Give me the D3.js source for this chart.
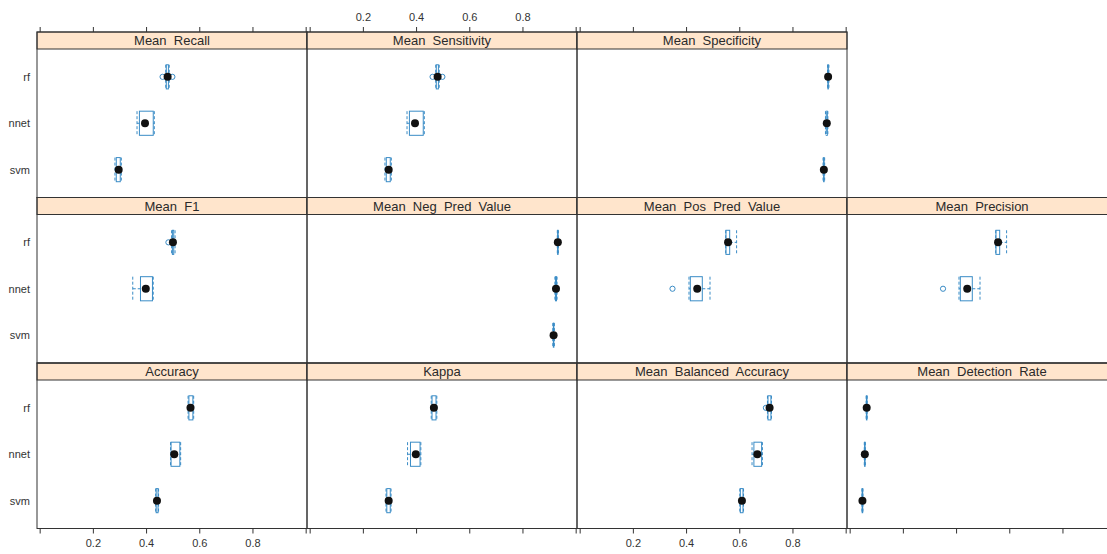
<!DOCTYPE html>
<html>
<head>
<meta charset="utf-8">
<script src="https://cdn.jsdelivr.net/npm/d3@7"></script>
<style>
    body { margin: 0; background: #fff; }
    text { font-family: "Liberation Sans", Arial, sans-serif; }
</style>
</head>
<body>
<svg id="bwplot"></svg>
<script>
// models, top to bottom inside each panel
var models = ["rf", "nnet", "svm"]
// panel names in lattice order (bottom-left first, row by row)
var panelNames = ["Accuracy", "Kappa", "Mean  Balanced  Accuracy", "Mean  Detection  Rate",
    "Mean  F1", "Mean  Neg  Pred  Value", "Mean  Pos  Pred  Value", "Mean  Precision",
    "Mean  Recall", "Mean  Sensitivity", "Mean  Specificity"]
var tickValues = [0, 0.2, 0.4, 0.6, 0.8, 1.0]
var tickLabels = ["", "0.2", "0.4", "0.6", "0.8", ""]

// [min, q1, median, q3, max] for rf, nnet, svm (null = no values)
var accuracy = [[0.558, 0.561, 0.567, 0.576, 0.579], [0.492, 0.494, 0.506, 0.527, 0.530], [0.436, 0.438, 0.441, 0.445, 0.447]]
var kappa = [[0.457, 0.460, 0.467, 0.475, 0.478], [0.368, 0.379, 0.399, 0.415, 0.418], [0.287, 0.290, 0.297, 0.303, 0.306]]
var balancedAcc = [[0.706, 0.708, 0.714, 0.719, 0.721], [0.648, 0.655, 0.668, 0.684, 0.687], [0.602, 0.604, 0.610, 0.614, 0.616]]
var detectionRate = [[0.062, 0.063, 0.064, 0.065, 0.066], [0.055, 0.056, 0.057, 0.058, 0.059], [0.046, 0.047, 0.048, 0.049, 0.050]]
var f1 = [[0.496, 0.499, 0.501, 0.504, 0.509], [0.350, 0.379, 0.399, 0.424, 0.427], null]
var negPred = [[0.931, 0.932, 0.933, 0.934, 0.935], [0.922, 0.924, 0.926, 0.928, 0.930], [0.914, 0.916, 0.917, 0.918, 0.920]]
var posPred = [[0.549, 0.550, 0.558, 0.564, 0.590], [0.411, 0.416, 0.442, 0.461, 0.490], null]
var precision = [[0.549, 0.550, 0.558, 0.564, 0.590], [0.411, 0.416, 0.442, 0.461, 0.490], null]
var recall = [[0.474, 0.476, 0.481, 0.484, 0.487], [0.366, 0.375, 0.396, 0.427, 0.431], [0.283, 0.288, 0.297, 0.303, 0.307]]
var sensitivity = [[0.474, 0.476, 0.481, 0.484, 0.487], [0.366, 0.375, 0.396, 0.427, 0.431], [0.283, 0.288, 0.297, 0.303, 0.307]]
var specificity = [[0.932, 0.933, 0.934, 0.935, 0.937], [0.924, 0.927, 0.929, 0.931, 0.933], [0.915, 0.917, 0.918, 0.919, 0.921]]

// outliers per model (rf, nnet, svm)
var noOut = [[], [], []]
var balancedAccOut = [[0.700], [], []]
var f1Out = [[0.484], [], []]
var posPredOut = [[], [0.349], []]
var precisionOut = [[], [0.351], []]
var recallOut = [[0.462, 0.499], [], []]
var sensitivityOut = [[0.462, 0.499], [], []]

var panelStats = [accuracy, kappa, balancedAcc, detectionRate, f1, negPred, posPred, precision, recall, sensitivity, specificity]
var panelOut = [noOut, noOut, balancedAccOut, noOut, f1Out, noOut, posPredOut, precisionOut, recallOut, sensitivityOut, noOut]

function drawBwplot() {
    var width = 1107, height = 554
    var colLeft = 37, colW = 270
    var rowTop = 32, rowH = 165.5, stripH = 17
    var boxCol = "#3a8cc6", lineCol = "#333"

    var svg = d3.select("#bwplot")
        .attr("width", width)
        .attr("height", height)

    panelNames.forEach(function (name, i) {
        var col = i % 4
        var row = 2 - Math.floor(i / 4)   // row from top
        var left = colLeft + col * colW
        var top = rowTop + row * rowH
        var bodyTop = top + stripH, bottom = top + rowH

        var xScale = d3.scaleLinear().domain([-0.01, 1.005]).range([left, left + colW])
        var yScale = d3.scalePoint().domain(models).range([bodyTop, bottom]).padding(0.6)
        var boxH = yScale.step() * 0.52

        var g = svg.append("g")

        // strip
        g.append("rect")
            .attr("x", left).attr("y", top)
            .attr("width", colW).attr("height", stripH)
            .attr("fill", "#ffe5cc")
            .attr("stroke", lineCol)
        g.append("text")
            .attr("x", left + colW / 2)
            .attr("y", top + stripH / 2 + 4.5)
            .attr("text-anchor", "middle")
            .style("font-size", "13px")
            .style("white-space", "pre")
            .attr("fill", "#2a2a2a")
            .text(name)

        // boxes
        var stats = panelStats[i]
        models.forEach(function (m, k) {
            var s = stats[k]
            if (!s) return
            var yc = yScale(m)
            var dash = "3,2"
            g.append("line")
                .attr("x1", xScale(s[0])).attr("x2", xScale(s[1]))
                .attr("y1", yc).attr("y2", yc)
                .attr("stroke", boxCol).attr("stroke-dasharray", dash)
            g.append("line")
                .attr("x1", xScale(s[3])).attr("x2", xScale(s[4]))
                .attr("y1", yc).attr("y2", yc)
                .attr("stroke", boxCol).attr("stroke-dasharray", dash)
            ;[s[0], s[4]].forEach(function (v) {
                g.append("line")
                    .attr("x1", xScale(v)).attr("x2", xScale(v))
                    .attr("y1", yc - boxH / 2).attr("y2", yc + boxH / 2)
                    .attr("stroke", boxCol).attr("stroke-dasharray", dash)
            })
            g.append("rect")
                .attr("x", xScale(s[1])).attr("y", yc - boxH / 2)
                .attr("width", Math.max(0.5, xScale(s[3]) - xScale(s[1])))
                .attr("height", boxH)
                .attr("fill", "none")
                .attr("stroke", boxCol)
            panelOut[i][k].forEach(function (v) {
                g.append("circle")
                    .attr("cx", xScale(v)).attr("cy", yc).attr("r", 2.6)
                    .attr("fill", "none").attr("stroke", boxCol)
            })
            g.append("circle")
                .attr("cx", xScale(s[2])).attr("cy", yc).attr("r", 4)
                .attr("fill", "#111")
        })

        // panel border
        g.append("rect")
            .attr("x", left).attr("y", top)
            .attr("width", colW).attr("height", rowH)
            .attr("fill", "none")
            .attr("stroke", lineCol)

        // top axis on top row, bottom axis on bottom row
        if (row == 0) {
            var ax = svg.append("g")
                .attr("transform", "translate(0," + top + ")")
                .call(d3.axisTop(xScale).tickValues(tickValues).tickSize(5).tickPadding(6)
                    .tickFormat(function (d, j) { return col == 1 ? tickLabels[j] : "" }))
            styleAxis(ax)
        }
        if (row == 2) {
            var bx = svg.append("g")
                .attr("transform", "translate(0," + bottom + ")")
                .call(d3.axisBottom(xScale).tickValues(tickValues).tickSize(5).tickPadding(6)
                    .tickFormat(function (d, j) { return (col == 0 || col == 2) ? tickLabels[j] : "" }))
            styleAxis(bx)
        }
        if (col == 0) {
            var yx = svg.append("g")
                .attr("transform", "translate(" + left + ",0)")
                .call(d3.axisLeft(yScale).tickSize(0).tickPadding(7))
            styleAxis(yx)
        }
    })

    function styleAxis(a) {
        a.select(".domain").remove()
        a.selectAll("line").attr("stroke", lineCol)
        a.selectAll("text")
            .style("font-size", "11px")
            .attr("fill", "#333")
            .style("font-family", "'Liberation Sans', Arial, sans-serif")
    }
}
drawBwplot();
</script>
</body>
</html>
